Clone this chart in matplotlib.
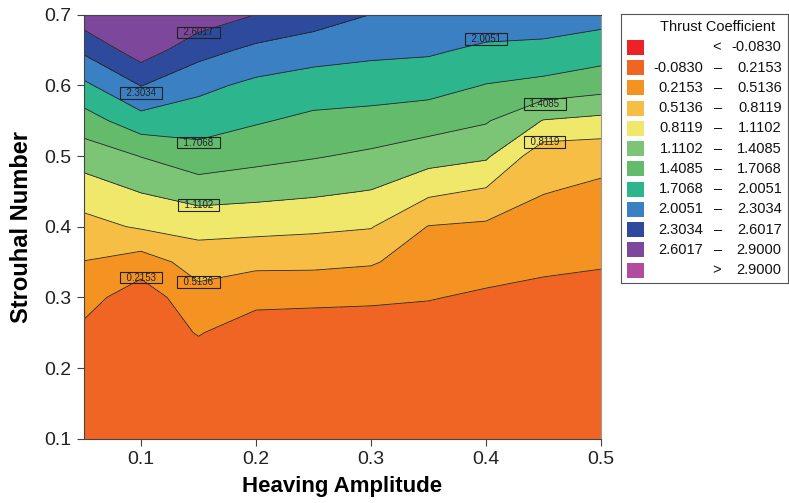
import matplotlib
matplotlib.use('Agg')
import numpy as np
import matplotlib.pyplot as plt
from matplotlib.patches import Rectangle

plt.rcParams['font.family'] = ['Liberation Sans', 'DejaVu Sans']

# grid: heaving amplitude (x) vs Strouhal number (y)
heave = [0.05, 0.10, 0.15, 0.20, 0.25, 0.30, 0.35, 0.40, 0.45, 0.50]
strouhal = [0.10, 0.15, 0.20, 0.25, 0.30, 0.35, 0.40, 0.45, 0.50, 0.55, 0.60, 0.65, 0.70]

# thrust coefficient, one row per Strouhal number
thrust = [
    [0.00, 0.00, -0.02, -0.02, -0.03, -0.03, -0.02, -0.03, -0.03, -0.03],
    [0.04, 0.01, 0.01, 0.00, 0.00, 0.00, 0.01, 0.00, 0.00, 0.00],
    [0.09, 0.02, 0.053, 0.02, 0.01, 0.00, 0.04, 0.01, 0.00, 0.00],
    [0.15, 0.03, 0.234, 0.050, 0.022, 0.017, 0.092, 0.035, 0.018, 0.020],
    [0.329, 0.05, 0.415, 0.308, 0.298, 0.278, 0.229, 0.178, 0.143, 0.125],
    [0.507, 0.368, 0.638, 0.581, 0.578, 0.542, 0.366, 0.321, 0.268, 0.238],
    [0.715, 0.845, 0.919, 0.904, 0.870, 0.828, 0.503, 0.465, 0.395, 0.350],
    [0.958, 1.122, 1.244, 1.203, 1.160, 1.099, 0.876, 0.773, 0.525, 0.462],
    [1.244, 1.417, 1.590, 1.500, 1.430, 1.357, 1.238, 1.155, 0.620, 0.600],
    [1.568, 1.888, 1.843, 1.735, 1.640, 1.607, 1.545, 1.435, 1.097, 1.033],
    [1.942, 2.312, 2.081, 1.937, 1.868, 1.844, 1.819, 1.696, 1.632, 1.535],
    [2.356, 2.76, 2.415, 2.234, 2.133, 2.074, 2.048, 1.949, 1.920, 1.846],
    [2.78, 2.88, 2.79, 2.60, 2.46, 2.30, 2.26, 2.199, 2.190, 2.118],
]

levels = [-0.0830, 0.2153, 0.5136, 0.8119, 1.1102, 1.4085, 1.7068,
          2.0051, 2.3034, 2.6017, 2.9000]
colors = ['#EC2227', '#F06524', '#F59322', '#F6BE45', '#F0E86A', '#7CC576',
          '#63BB6B', '#2DB68D', '#3A80C3', '#2D4A9C', '#7D479B', '#B24C9E']

# contour labels: level and where its box sits
label_levels = [2.6017, 2.3034, 1.7068, 1.1102, 0.2153, 0.5136, 2.0051, 1.4085, 0.8119]
label_x = [0.15, 0.10, 0.15, 0.15, 0.10, 0.15, 0.40, 0.451, 0.451]
label_y = [0.675, 0.589, 0.519, 0.431, 0.328, 0.322, 0.666, 0.574, 0.520]

fig = plt.figure(figsize=(7.89, 5.03), dpi=100)
ax = fig.add_axes([83.5/789, 64.3/503, 517.5/789, 424/503])

Z = np.array(thrust)
ax.contourf(heave, strouhal, Z, levels=levels, colors=colors, extend='both')
ax.contour(heave, strouhal, Z, levels=levels, colors='#262626', linewidths=0.6)

for lev, lx, ly in zip(label_levels, label_x, label_y):
    ax.text(lx, ly, '  %.4f  ' % lev, ha='center', va='center', fontsize=7,
            color='#222222',
            bbox=dict(boxstyle='square,pad=0.08', facecolor='none',
                      edgecolor='#222222', linewidth=0.8))

ax.set_xlim(0.05, 0.5)
ax.set_ylim(0.1, 0.7)
ax.set_xticks([0.1, 0.2, 0.3, 0.4, 0.5])
ax.set_yticks([0.1, 0.2, 0.3, 0.4, 0.5, 0.6, 0.7])
ax.tick_params(labelsize=14, length=5, width=0.8, color='#444444', labelcolor='#222222')
for side, sp in ax.spines.items():
    sp.set_linewidth(0.8)
    sp.set_color('#444444' if side != 'right' else '#999999')

ax.set_xlabel('Heaving Amplitude', fontsize=16, fontweight='bold')
ax.set_ylabel('Strouhal Number', fontsize=17, fontweight='bold')
ax.xaxis.set_label_coords(0.5, -0.088)
ax.yaxis.set_label_coords(-0.098, 0.5)

# legend drawn in its own axes, pixel-like coordinates
lax = fig.add_axes([620.7/789, (503-282.7)/503, 167.5/789, 268.7/503])
lax.set_xlim(620.7, 788.2)
lax.set_ylim(282.7, 14)
lax.set_xticks([])
lax.set_yticks([])
for sp in lax.spines.values():
    sp.set_linewidth(0.8)
    sp.set_color('#555555')
lax.text(717.5, 26.7, 'Thrust Coefficient', ha='center', va='center', fontsize=10.5,
         color='#111111')
lab_kw = dict(va='center', fontsize=10.5, color='#111111')
for i, c in enumerate(colors):
    yc = 47.3 + i * 20.25
    lax.add_patch(Rectangle((626.7, yc - 7.5), 17.6, 15, facecolor=c, edgecolor='none'))
    if i == 0:
        lax.text(716.7, yc, '<', ha='center', **lab_kw)
        lax.text(781.7, yc, '%.4f' % levels[0], ha='right', **lab_kw)
    elif i == len(colors) - 1:
        lax.text(716.7, yc, '>', ha='center', **lab_kw)
        lax.text(781.7, yc, '%.4f' % levels[-1], ha='right', **lab_kw)
    else:
        lax.text(703.3, yc, '%.4f' % levels[i - 1], ha='right', **lab_kw)
        lax.text(718, yc, '\u2013', ha='center', **lab_kw)
        lax.text(781.7, yc, '%.4f' % levels[i], ha='right', **lab_kw)

fig.savefig('out.png', dpi=100)
